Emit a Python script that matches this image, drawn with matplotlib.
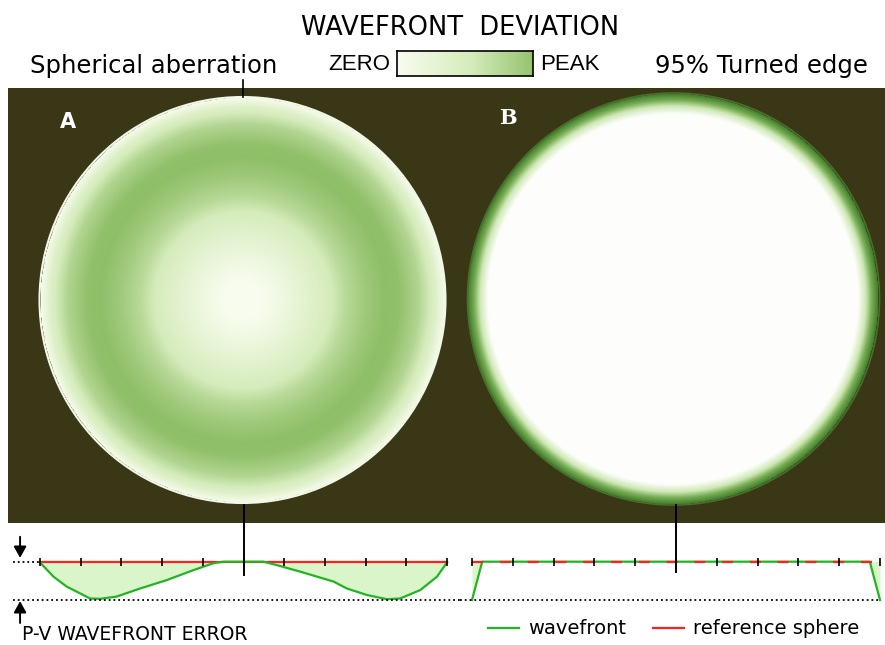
import numpy as np
import matplotlib
matplotlib.use('Agg')
import matplotlib.pyplot as plt
from matplotlib.colors import LinearSegmentedColormap
from matplotlib.lines import Line2D
from matplotlib.patches import Circle

W, H = 885, 645

# perfil A: aberracion esferica (r normalizado, profundidad relativa al P-V)
r_A = [-1.0, -0.934, -0.869, -0.754, -0.705, -0.623, -0.508, -0.377, -0.246, -0.148, -0.098, 0.0,
       0.098, 0.164, 0.279, 0.443, 0.508, 0.607, 0.705, 0.770, 0.869, 0.951, 1.0]
d_A = [0.02, 0.39, 0.65, 0.96, 0.97, 0.91, 0.70, 0.48, 0.22, 0.04, 0.0, 0.0,
       0.0, 0.09, 0.26, 0.52, 0.70, 0.87, 0.98, 0.96, 0.74, 0.39, 0.02]
# perfil B: borde caido al 95%
r_B = [-1.0, -0.95, 0.95, 1.0]
d_B = [1.0, 0.0, 0.0, 1.0]
# sombreado radial del disco B
rs_B = [0.0, 0.90, 0.94, 0.97, 1.0]
ls_B = [0.0, 0.0, 0.35, 0.7, 1.0]
ticks_r = [-1.0, -0.8, -0.6, -0.4, -0.2, 0.0, 0.2, 0.4, 0.6, 0.8, 1.0]

c_bg = '#3a3716'
c_green = '#22b422'
c_red = '#ff2020'
c_fill = '#d9f5c9'
cmA = LinearSegmentedColormap.from_list('wfA', ['#f8fcee', '#d6ecbc', '#8cbd64'])
cmB = LinearSegmentedColormap.from_list('wfB', ['#fdfefb', '#cfe8b6', '#78ae55', '#3f7a2a'])
fuente = 'DejaVu Sans'


def px(x, y, w, h):
    return [x / W, 1 - (y + h) / H, w / W, h / H]


def texto(x, y, s, size, ha='left', **kw):
    fig.text(x / W, 1 - y / H, s, fontsize=size, family=fuente, ha=ha, va='baseline', **kw)


fig = plt.figure(figsize=(W / 100, H / 100), dpi=100)
fig.patch.set_facecolor('white')

# fondo oscuro
ax_bg = fig.add_axes(px(8, 88, 877, 435))
ax_bg.set_facecolor(c_bg)
ax_bg.set_xticks([])
ax_bg.set_yticks([])
for s in ax_bg.spines.values():
    s.set_visible(False)

# discos
n = 500
x = np.linspace(-1, 1, n)
X, Y = np.meshgrid(x, x)
R = np.hypot(X, Y)

r_half = np.array(r_A[11:])
d_half = np.array(d_A[11:])
nivA = np.ma.masked_where(R > 1, np.interp(R, r_half, d_half))
nivB = np.ma.masked_where(R > 1, np.interp(R, rs_B, ls_B))

lim = 1.03
rA, rB = 203, 206
axA = fig.add_axes(px(242.5 - rA * lim, 300 - rA * lim, 2 * rA * lim, 2 * rA * lim))
axA.imshow(nivA, extent=(-1, 1, -1, 1), origin='lower', cmap=cmA, vmin=0, vmax=1,
           interpolation='bilinear')
axA.add_patch(Circle((0, 0), 1, fill=False, ec='#f2f8e6', lw=1.5))
axA.plot([0, 0], [1.0, 1.084], color='black', lw=1.2, clip_on=False)
axA.set_xlim(-lim, lim)
axA.set_ylim(-lim, lim)
axA.axis('off')

axB = fig.add_axes(px(673.5 - rB * lim, 299 - rB * lim, 2 * rB * lim, 2 * rB * lim))
axB.imshow(nivB, extent=(-1, 1, -1, 1), origin='lower', cmap=cmB, vmin=0, vmax=1,
           interpolation='bilinear')
axB.add_patch(Circle((0, 0), 1, fill=False, ec='#4a6f2c', lw=1.2))
axB.set_xlim(-lim, lim)
axB.set_ylim(-lim, lim)
axB.axis('off')

fig.text(68 / W, 1 - 122 / H, 'A', color='white', fontsize=15, fontweight='bold',
         family='DejaVu Sans', ha='center', va='center')
fig.text(508 / W, 1 - 118 / H, 'B', color='white', fontsize=15, fontweight='bold',
         family='DejaVu Serif', ha='center', va='center')

# perfiles
ylim_p = (2.175, -1.01)
flecha = dict(arrowstyle='-|>,head_length=0.45,head_width=0.25', color='black', lw=1.4,
              mutation_scale=15, shrinkA=0, shrinkB=0)

axPA = fig.add_axes(px(0, 523, 460, 122))
axPA.set_facecolor('none')
axPA.fill_between(r_A, 0, d_A, color=c_fill, lw=0)
axPA.plot([-1, 1], [0, 0], color=c_red, lw=1.6)
axPA.plot(r_A, d_A, color=c_green, lw=1.6)
axPA.plot(ticks_r, [0] * len(ticks_r), ls='none', marker='|', ms=6, mew=1.2, color='black')
axPA.plot([-1.133, -1], [0, 0], color='black', ls=':', lw=1.3)
axPA.plot([-1.133, 1.0639], [1, 1], color='black', ls=':', lw=1.3)
axPA.plot([0, 0], [-1.48, 0.35], color='black', lw=1.4, clip_on=False)
axPA.annotate('', xy=(-1.098, -0.1), xytext=(-1.098, -0.65), arrowprops=flecha)
axPA.annotate('', xy=(-1.098, 1.03), xytext=(-1.098, 1.6), arrowprops=flecha)
axPA.set_xlim(-1.1966, 1.0639)
axPA.set_ylim(*ylim_p)
axPA.axis('off')

axPB = fig.add_axes(px(460, 523, 425, 122))
axPB.set_facecolor('none')
axPB.fill_between(r_B, 0, d_B, color=c_fill, lw=0)
axPB.plot(r_B, d_B, color=c_green, lw=1.6)
axPB.plot([-1, 1], [0, 0], color=c_red, lw=1.6, ls=(0, (5, 7.5)))
axPB.plot(ticks_r, [0] * len(ticks_r), ls='none', marker='|', ms=6, mew=1.2, color='black')
axPB.plot([-1.0588, 1], [1, 1], color='black', ls=':', lw=1.3)
axPB.plot([0, 0], [-1.48, 0.27], color='black', lw=1.4, clip_on=False)
axPB.set_xlim(-1.0588, 1.0245)
axPB.set_ylim(*ylim_p)
axPB.axis('off')

# textos superiores
texto(460, 35, 'WAVEFRONT  DEVIATION', 18.5, ha='center')
texto(30, 73, 'Spherical aberration', 17.5)
texto(655, 73, '95% Turned edge', 17.5)
fig.text(390 / W, 1 - 70 / H, 'ZERO', fontsize=16, family='Liberation Sans', ha='right',
         va='baseline')
fig.text(540 / W, 1 - 70 / H, 'PEAK', fontsize=16, family='Liberation Sans', ha='left',
         va='baseline')

ax_cb = fig.add_axes(px(397, 51, 136, 25))
ax_cb.imshow(np.linspace(0, 0.93, 256)[None, :], aspect='auto', cmap=cmA, vmin=0, vmax=1)
ax_cb.set_xticks([])
ax_cb.set_yticks([])
for s in ax_cb.spines.values():
    s.set_linewidth(1.2)

texto(22, 640, 'P-V WAVEFRONT ERROR', 13.5)

fig.legend(handles=[Line2D([], [], color=c_green, lw=1.6), Line2D([], [], color=c_red, lw=1.6)],
           labels=['wavefront', 'reference sphere'], loc='center',
           bbox_to_anchor=(674 / W, 1 - 629 / H), ncol=2, frameon=False,
           prop={'family': fuente, 'size': 14}, handlelength=1.55, columnspacing=1.4,
           handletextpad=0.5, borderpad=0, borderaxespad=0)

fig.savefig('out.png', dpi=100)
